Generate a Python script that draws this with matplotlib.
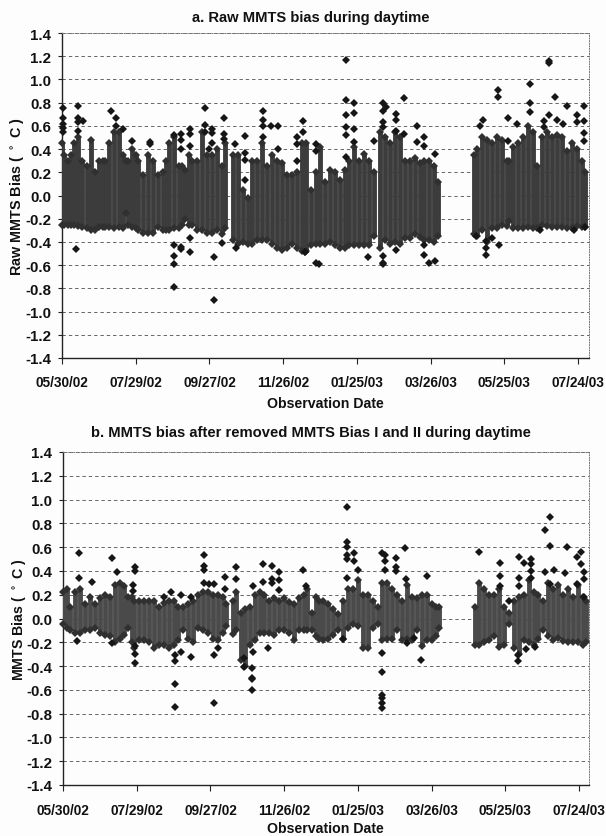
import matplotlib
matplotlib.use("Agg")
import matplotlib.pyplot as plt

plt.rcParams['font.family'] = ['Liberation Sans', 'DejaVu Sans']
plt.rcParams['font.weight'] = 'bold'

tick_labels = ['05/30/02', '07/29/02', '09/27/02', '11/26/02', '01/25/03', '03/26/03', '05/25/03', '07/24/03']
tick_days = [0, 60, 120, 180, 240, 300, 360, 420]
y_ticks = [1.4, 1.2, 1.0, 0.8, 0.6, 0.4, 0.2, 0.0, -0.2, -0.4, -0.6, -0.8, -1.0, -1.2, -1.4]

# Panel a: day, dense lower and upper limit of the cloud
a_days = [0,2,5,7,10,13,16,20,24,27,30,33,35,38,42,46,50,52,54,57,60,62,66,70,74,78,82,85,87,91,95,98,100,103,106,110,114,118,122,126,130,133,
          139,143,147,151,155,159,163,167,171,175,179,183,187,191,195,199,203,207,210,214,218,222,226,230,234,238,242,246,250,254,
          259,263,267,271,275,279,283,287,291,295,299,303,306,
          335,338,342,346,350,354,358,362,364,367,371,375,379,383,387,391,395,399,403,407,411,415,419,423,426]
a_low = [-.25,-.25,-.25,-.25,-.25,-.26,-.27,-.28,-.3,-.3,-.27,-.27,-.27,-.27,-.28,-.27,-.28,-.15,-.25,-.27,-.28,-.3,-.32,-.32,-.32,-.27,-.3,-.3,-.3,-.28,-.28,-.25,-.2,-.25,-.25,-.3,-.3,-.32,-.32,-.3,-.33,-.28,
         -.38,-.42,-.4,-.42,-.42,-.38,-.38,-.38,-.42,-.45,-.47,-.45,-.42,-.45,-.48,-.48,-.43,-.42,-.42,-.42,-.4,-.43,-.45,-.45,-.43,-.43,-.43,-.43,-.43,-.35,
         -.45,-.38,-.42,-.4,-.42,-.37,-.37,-.33,-.36,-.38,-.38,-.4,-.35,
         -.33,-.35,-.3,-.4,-.28,-.28,-.25,-.26,-.22,-.28,-.28,-.28,-.27,-.28,-.28,-.25,-.26,-.27,-.27,-.27,-.28,-.28,-.26,-.27,-.27]
a_high = [.45,.35,.3,.35,.45,.5,.3,.25,.48,.2,.3,.3,.3,.45,.55,.55,.35,.3,.3,.4,.35,.3,.18,.35,.3,.18,.2,.3,.45,.5,.25,.25,.22,.35,.3,.3,.55,.35,.35,.4,.25,.45,
          .35,.35,.05,-.02,.3,.3,.45,.25,.35,.3,.28,.18,.18,.2,.45,.45,.05,.2,.42,.12,.22,.2,.13,.22,.3,.42,.3,.36,.3,.2,
          .55,.5,.45,.55,.5,.3,.3,.32,.28,.3,.3,.25,.12,
          .35,.4,.5,.48,.45,.5,.48,.3,.3,.42,.45,.5,.6,.55,.25,.5,.55,.5,.52,.5,.38,.45,.4,.3,.2]
# Panel a: isolated points
a_out_days = [1,1,1,1,1,13,13,13,13,17,11,40,44,44,50,57,72,72,91,97,97,97,97,97,91,91,91,91,104,104,104,104,104,116,116,116,122,122,122,124,124,120,132,132,132,130,141,142,149,149,149,149,164,164,164,164,170,176,176,191,191,191,196,196,198,207,207,207,
              231,231,231,231,231,231,238,238,238,238,254,261,261,261,261,261,261,261,264,272,272,272,278,278,289,289,295,295,304,304,299,295,295,272,249,209,198,
              337,340,343,355,355,345,345,345,350,356,363,363,370,381,381,381,396,396,396,392,392,401,403,408,411,419,419,425,425,425,425,389,417,426]
a_out_vals = [.75,.67,.62,.58,.55,.77,.67,.63,.56,.64,-.46,.73,.67,.6,.57,.47,.46,.44,.52,.53,.48,.4,-.46,-.44,-.43,-.52,-.59,-.785,.57,.53,.43,-.37,-.49,.755,.61,.55,.57,.54,.45,-.53,-.9,.4,.67,.53,.49,-.41,.44,-.45,.51,.37,.31,.13,.73,.65,.6,.5,.6,.6,.4,.5,.44,.3,.64,.55,-.49,-.58,.44,.38,
              1.17,.82,.69,.59,.52,.33,.8,.71,.57,.46,.47,.8,.73,.63,.59,-.52,-.59,-.58,.76,.7,.65,.56,.84,.53,.6,.46,.5,.43,.36,-.56,-.58,-.43,-.51,-.47,-.53,-.59,-.49,
              -.35,.6,.65,.91,.85,-.51,-.45,-.39,-.37,-.43,.67,.47,.62,.96,.8,.72,1.16,1.14,.69,.59,.64,.85,.65,.62,.77,.69,.63,.77,.64,.54,.47,-.3,-.3,-.27]

# Panel b: day, dense lower and upper limit of the cloud
b_days = [0,3,6,10,14,18,22,26,30,34,38,42,46,50,53,56,58,62,66,70,74,78,82,86,90,94,98,102,106,110,114,118,122,126,130,133,
          138,141,145,148,152,156,160,164,168,172,176,180,184,188,192,196,199,203,206,208,212,216,220,224,228,232,236,240,244,248,252,256,
          260,264,268,272,276,280,284,288,292,296,300,304,306,
          335,339,343,347,351,355,359,363,367,371,375,379,383,387,391,395,399,403,407,411,415,419,423,426]
b_low = [-.05,-.08,-.1,-.12,-.12,-.1,-.1,-.08,-.12,-.14,-.15,-.2,-.17,-.14,-.08,-.2,-.25,-.18,-.18,-.2,-.25,-.22,-.22,-.25,-.22,-.18,-.1,-.17,-.2,-.08,-.1,-.12,-.17,-.18,-.12,-.06,
         -.13,-.1,-.35,-.4,-.22,-.18,-.12,-.12,-.12,-.14,-.1,-.1,-.12,-.18,-.1,-.1,-.1,-.1,-.15,-.17,-.18,-.17,-.14,-.1,-.17,-.08,-.05,-.06,-.25,-.25,-.08,-.05,
         -.18,-.17,-.17,-.1,-.18,-.17,-.18,-.1,-.23,-.18,-.18,-.15,-.08,
         -.22,-.22,-.2,-.18,-.15,-.24,-.22,-.05,-.25,-.3,-.18,-.2,-.22,-.17,-.1,-.15,-.18,-.16,-.19,-.2,-.2,-.2,-.22,-.2]
b_high = [.22,.25,.1,.22,.25,.12,.18,.12,.17,.2,.18,.28,.3,.27,.18,.18,.15,.15,.15,.15,.15,.1,.13,.15,.15,.1,.1,.12,.15,.2,.22,.22,.2,.2,.18,.12,
          .15,.22,.05,.08,.1,.2,.22,.2,.15,.17,.15,.17,.14,.12,.17,.2,.25,.05,.18,.15,.15,.12,.08,.04,.15,.25,.25,.32,.2,.2,.15,.1,
          .3,.3,.25,.2,.15,.28,.18,.17,.2,.2,.12,.1,.1,
          .1,.3,.25,.2,.2,.25,.1,.05,.15,.18,.2,.32,.22,.2,.15,.3,.25,.28,.2,.25,.18,.28,.18,.15]
# Panel b: isolated points
b_out_days = [13,13,11,24,40,44,40,59,59,57,57,59,59,59,82,88,91,91,91,91,96,96,104,104,115,115,115,115,119,123,123,123,126,132,132,141,141,147,147,154,154,154,154,155,155,163,163,167,170,170,170,176,176,176,195,198,
              231,231,231,231,231,231,237,237,240,228,260,262,262,262,271,271,271,278,279,296,291,286,280,260,260,260,260,260,260,
              339,356,356,356,363,371,371,371,375,381,381,381,381,370,370,377,384,392,392,396,396,396,400,409,410,418,418,422,422,424,424,424]
b_out_vals = [.55,.34,-.19,.31,.51,.39,-.21,.43,.4,.28,.23,-.37,-.3,-.23,.18,.22,-.31,-.36,-.55,-.74,.2,-.28,.18,-.32,.53,.44,.41,.3,.29,.29,-.31,-.71,-.25,.35,.25,.43,.33,-.33,-.41,-.42,-.5,-.51,-.6,-.28,.27,.46,.31,-.25,.44,.33,.3,.39,.32,.24,.41,.27,
              .94,.64,.6,.53,.5,.34,.55,.48,.41,-.17,.55,.53,.48,.41,.51,.43,.4,.59,.33,.36,-.35,-.16,-.21,-.29,-.45,-.64,-.67,-.71,-.75,
              .56,.47,.36,.27,.15,.52,.34,.27,.47,.5,.46,.4,.34,-.36,-.31,-.26,-.24,.74,.39,.85,.61,.29,.41,.38,.6,.52,.29,.56,.46,.39,.33,.18]

W, H = 606, 837
fig = plt.figure(figsize=(W/100, H/100), dpi=100, facecolor='#fdfdfd')

def panel(box, days, low, high, od, ov, title, ylabel, blob, title_y, xlabel_y, ylab_x, ylab_size, xpad):
    x0, x1, ytop, ybot = box
    ax = fig.add_axes([x0/W, 1-ybot/H, (x1-x0)/W, (ybot-ytop)/H])
    ax.set_facecolor('#fdfdfd')
    ax.set_xlim(0, (x1-x0)/1.2286)
    ax.set_ylim(-1.4, 1.4)
    ax.set_yticks(y_ticks)
    ax.set_yticklabels([f'{v:.1f}' for v in y_ticks], fontsize=10.8, fontweight='bold')
    ax.set_xticks(tick_days)
    ax.set_xticklabels(tick_labels, fontsize=9.8, fontweight='bold')
    ax.tick_params(axis='x', length=4, width=0.8, color='#222222', pad=xpad)
    ax.tick_params(axis='y', length=3, width=0.8, color='#222222', pad=5)
    ax.grid(axis='y', color='#666666', lw=0.7, ls=(0, (3.5, 3)))
    ax.set_axisbelow(True)
    for s in ('left', 'bottom'):
        ax.spines[s].set_color('#222222'); ax.spines[s].set_linewidth(1.0)
    for s in ('top', 'right'):
        ax.spines[s].set_color('#777777'); ax.spines[s].set_linewidth(0.7); ax.spines[s].set_linestyle(':')
    ax.vlines(days, low, high, color=blob, lw=3.5, zorder=3)
    ax.plot(days, low, ls='', marker='D', ms=3.9, color='#303030', mew=0, zorder=4, clip_on=False)
    ax.plot(days, high, ls='', marker='D', ms=3.9, color='#303030', mew=0, zorder=4, clip_on=False)
    ax.plot(od, ov, ls='', marker='D', ms=3.9, color='#161616', mew=0, zorder=5, clip_on=False)
    fig.text(310.5/W, 1-title_y/H, title, ha='center', va='center', fontsize=10.6, fontweight='bold', color='#111111')
    fig.text(325/W, 1-xlabel_y/H, 'Observation Date', ha='center', va='center', fontsize=10.2, fontweight='bold', color='#111111')
    fig.text(ylab_x/W, 1-(ybot+ytop)/2/H, ylabel, rotation=90, ha='center', va='center', fontsize=ylab_size, fontweight='bold', color='#111111')
    for t in ax.get_xticklabels() + ax.get_yticklabels():
        t.set_color('#111111')
    return ax

panel((62, 589, 34, 359), a_days, a_low, a_high, a_out_days, a_out_vals,
      'a. Raw MMTS bias during daytime', 'Raw MMTS Bias ( $\\mathbf{^\\circ}$ C )', '#3c3c3c', 18, 404, 17, 10.4, 8)
panel((63, 589, 453, 786), b_days, b_low, b_high, b_out_days, b_out_vals,
      'b. MMTS bias after removed MMTS Bias I and II during daytime', 'MMTS Bias ( $\\mathbf{^\\circ}$ C )', '#4a4a4a', 433, 829, 19, 10.2, 9)

fig.savefig('out.png', dpi=100, facecolor=fig.get_facecolor())
